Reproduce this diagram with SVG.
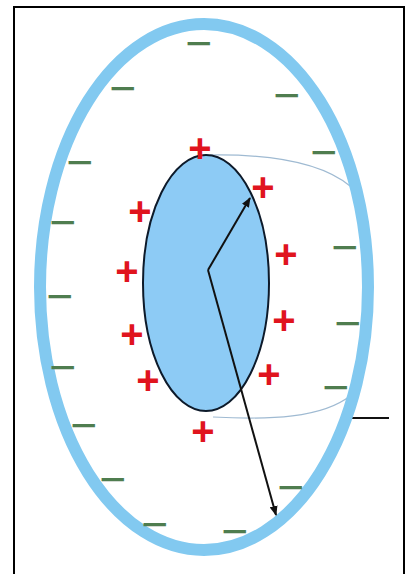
<svg xmlns="http://www.w3.org/2000/svg" width="406" height="574" viewBox="0 0 406 574">
<style>
.plus{font-family:"Liberation Sans",Arial,sans-serif;font-size:40px;font-weight:bold;fill:#e0141e;text-anchor:middle}
.minus{font-family:"Liberation Sans",Arial,sans-serif;font-size:46px;fill:#4f7d4f;text-anchor:middle}
.arc{fill:none;stroke:#9fbad2;stroke-width:1.2}
.conn{fill:none;stroke:#111;stroke-width:2}
</style>
<defs>
<marker id="ah" markerWidth="10" markerHeight="8" refX="9" refY="4" orient="auto" markerUnits="userSpaceOnUse">
<path d="M0,0 L10,4 L0,8 Z" fill="#111"/>
</marker>
</defs>
<rect x="0" y="0" width="406" height="574" fill="#fff"/>
<rect id="frame" x="14" y="7" width="390" height="590" fill="none" stroke="#000" stroke-width="2"/>
<g id="field-lines">
<path class="arc" d="M210,155 C272,154 322,163 350,186"/>
<path class="arc" d="M213,417 C270,420 322,418 350,396"/>
<line x1="352" y1="418" x2="389" y2="418" stroke="#111" stroke-width="2"/>
</g>
<g id="outer-ring">
<ellipse cx="204" cy="287" rx="164" ry="263" fill="none" stroke="#82c9f0" stroke-width="12"/>
</g>
<g id="inner-body">
<ellipse cx="206" cy="283" rx="63" ry="128" fill="#8dcbf5" stroke="#0d1a2a" stroke-width="2"/>
</g>
<g id="connectors">
<line class="conn" x1="208" y1="270" x2="250" y2="198" marker-end="url(#ah)"/>
<line class="conn" x1="208" y1="270" x2="276" y2="515" marker-end="url(#ah)"/>
</g>
<g id="positive-charges">
<text class="plus" x="200" y="162">+</text>
<text class="plus" x="263" y="201">+</text>
<text class="plus" x="140" y="225">+</text>
<text class="plus" x="127" y="285">+</text>
<text class="plus" x="286" y="268">+</text>
<text class="plus" x="132" y="348">+</text>
<text class="plus" x="284" y="334">+</text>
<text class="plus" x="148" y="394">+</text>
<text class="plus" x="269" y="388">+</text>
<text class="plus" x="203" y="445">+</text>
</g>
<g id="negative-charges">
<text class="minus" x="199" y="59">−</text>
<text class="minus" x="123" y="104">−</text>
<text class="minus" x="287" y="111">−</text>
<text class="minus" x="80" y="178">−</text>
<text class="minus" x="324" y="168">−</text>
<text class="minus" x="63" y="238">−</text>
<text class="minus" x="345" y="263">−</text>
<text class="minus" x="60" y="312">−</text>
<text class="minus" x="348" y="339">−</text>
<text class="minus" x="63" y="383">−</text>
<text class="minus" x="336" y="403">−</text>
<text class="minus" x="84" y="441">−</text>
<text class="minus" x="113" y="495">−</text>
<text class="minus" x="291" y="503">−</text>
<text class="minus" x="155" y="540">−</text>
<text class="minus" x="235" y="547">−</text>
</g>
</svg>
